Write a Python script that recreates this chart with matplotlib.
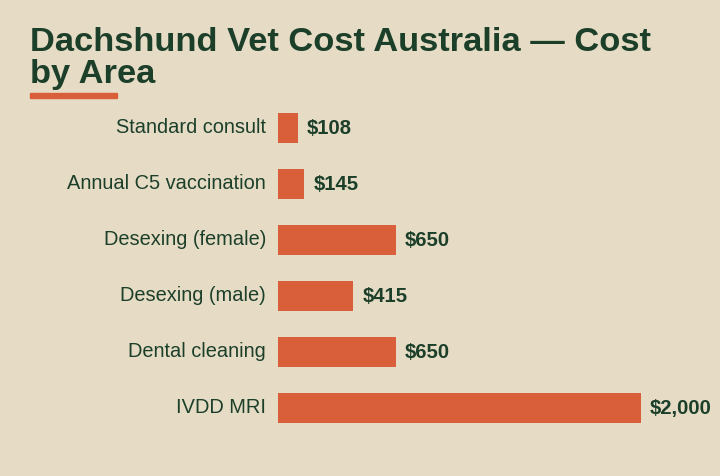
import matplotlib
matplotlib.use("Agg")
import matplotlib.pyplot as plt
from matplotlib.patches import Rectangle

plt.rcParams['font.family'] = ['Liberation Sans', 'DejaVu Sans']

# chart data
procedures = ["Standard consult", "Annual C5 vaccination", "Desexing (female)",
              "Desexing (male)", "Dental cleaning", "IVDD MRI"]
costs = [108, 145, 650, 415, 650, 2000]
cost_labels = ["$108", "$145", "$650", "$415", "$650", "$2,000"]

bg = "#e6dcc5"
bar_color = "#d95f3b"
text_color = "#1c3f2a"

W, H = 720, 476
fig = plt.figure(figsize=(W / 100, H / 100), dpi=100, facecolor=bg)

# title + accent underline (baseline = last line)
fig.text(30 / W, 1 - 83 / H, "Dachshund Vet Cost Australia \u2014 Cost\nby Area",
         ha="left", va="baseline", fontsize=24.8, fontweight="bold", color=text_color,
         linespacing=1.05)
fig.patches.append(Rectangle((30 / W, 1 - 98 / H), 87 / W, 5 / H,
                             transform=fig.transFigure, color=bar_color))

ax = fig.add_axes([278 / W, 40 / H, 363 / W, 336 / H])
ax.set_facecolor(bg)
y = list(range(len(procedures)))
ax.barh(y, costs, height=0.55, color=bar_color)
ax.set_xlim(0, 2000)
ax.set_ylim(5.5, -0.5)
ax.set_xticks([])
ax.set_yticks([])
for s in ax.spines.values():
    s.set_visible(False)

for yi, c, name, lab in zip(y, costs, procedures, cost_labels):
    ax.annotate(name, (0, yi), xytext=(-12, -5), textcoords="offset pixels",
                ha="right", va="baseline", fontsize=14.4,
                color=text_color, annotation_clip=False)
    ax.annotate(lab, (c, yi), xytext=(9, -6), textcoords="offset pixels",
                ha="left", va="baseline", fontsize=14.6, fontweight="bold",
                color=text_color, annotation_clip=False)

fig.savefig("out.png", dpi=100, facecolor=bg)
